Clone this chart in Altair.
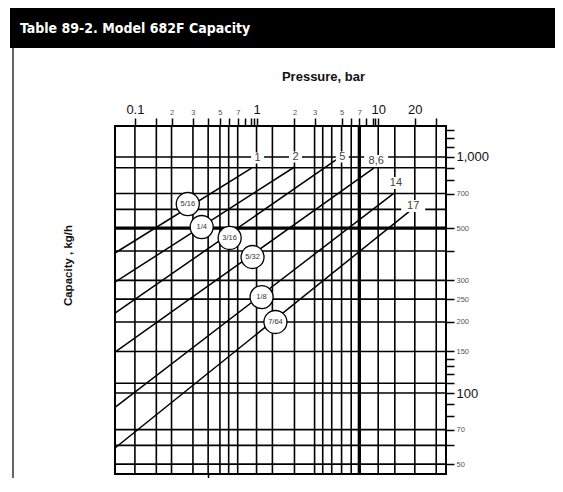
import json
import altair as alt
import pandas as pd

TITLE = "Table 89-2. Model 682F Capacity"
X_TITLE = "Pressure, bar"
Y_TITLE = "Capacity , kg/h"

pressure_domain = [0.0686, 36.1]
capacity_domain = [45.4, 1353]

# grid lines
v_grid = [0.1, 0.15, 0.2, 0.3, 0.4, 0.5, 0.59, 0.7, 1, 1.35, 2.05, 3, 3.5, 4.15, 5, 6, 10, 13.7, 20, 30]
v_grid_thick = [7]
h_grid = [1000, 900, 700, 600, 400, 300, 250, 200, 150, 110, 100, 70, 60, 50]
h_grid_thick = [500]

# top (pressure) ticks and their labels
top_ticks = [0.1, 0.15, 0.2, 0.3, 0.4, 0.5, 0.59, 0.7, 0.8, 0.9, 0.95, 1, 2.05, 3, 5, 6, 7, 8, 9, 9.5, 10, 20, 30]
top_labels = ["0.1", "", "2", "3", "", "5", "", "7", "", "", "", "1", "2", "3", "5", "", "7", "", "", "", "10", "20", ""]
top_big = [0.1, 1, 10, 20]
bottom_ticks = [0.4]

# right (capacity) ticks and their labels
right_ticks = [1300, 1200, 1100, 1000, 900, 800, 700, 500, 400, 300, 250, 200, 150, 140, 130, 120, 110, 100, 90, 80, 70, 60, 50]
right_labels = ["", "", "", "1,000", "", "", "700", "500", "", "300", "250", "200", "150", "", "", "", "", "100", "", "", "70", "", "50"]
right_big = [1000, 100]

# capacity lines per orifice
orifices = ["5/16", "1/4", "3/16", "5/32", "1/8", "7/64"]
line_p_start = [0.0686, 0.0686, 0.0686, 0.0686, 0.0686, 0.0686]
line_c_start = [392, 295, 218, 149, 87, 58.5]
line_p_end = [0.91, 2.05, 4.5, 9.2, 13.5, 18.6]
line_c_end = [898, 907, 972, 898, 703, 596]

# orifice circles
circle_p = [0.272, 0.354, 0.601, 0.927, 1.10, 1.43]
circle_c = [632, 505, 454, 377, 255, 200]

# labels at line ends
end_labels = ["1", "2", "5", "8,6", "14", "17"]
end_label_p = [1.02, 2.09, 5.07, 9.63, 14.0, 19.4]
end_label_c = [990, 1000, 1000, 962, 776, 620]

FONT = "Liberation Sans, Arial, Helvetica, sans-serif"
W, H = 331, 348

xs = alt.Scale(type="log", domain=pressure_domain, nice=False)
ys = alt.Scale(type="log", domain=capacity_domain, nice=False)


def lab_expr(labels, values):
    return f"{json.dumps(labels)}[indexof({json.dumps(values)}, datum.value)]"


top_axis = alt.Axis(
    orient="top", values=top_ticks, labelExpr=lab_expr(top_labels, top_ticks),
    tickSize=8, tickColor="black", tickWidth=1.5, domain=False, grid=False,
    labelPadding=2, labelOverlap=False, labelFlush=False, labelFont=FONT,
    labelFontSize={"condition": {"test": f"indexof({json.dumps(top_big)}, datum.value) >= 0", "value": 13}, "value": 7.5},
    labelColor={"condition": {"test": f"indexof({json.dumps(top_big)}, datum.value) >= 0", "value": "#111"}, "value": "#555"},
    title=X_TITLE, titleFont=FONT, titleFontSize=13, titleFontWeight="bold", titleColor="#111",
    titleX=208, titleY=-50, titleAlign="center", titleBaseline="middle", titleAngle=0,
)

right_axis = alt.Axis(
    orient="right", values=right_ticks, labelExpr=lab_expr(right_labels, right_ticks),
    tickSize=8, tickColor="black", tickWidth=1.5, domain=False, grid=False,
    labelPadding=2, labelOverlap=False, labelFlush=False, labelFont=FONT, labelBaseline="middle",
    labelFontSize={"condition": {"test": f"indexof({json.dumps(right_big)}, datum.value) >= 0", "value": 13}, "value": 7.5},
    labelColor={"condition": {"test": f"indexof({json.dumps(right_big)}, datum.value) >= 0", "value": "#111"}, "value": "#555"},
    title=None,
)

bottom_axis = alt.Axis(
    orient="bottom", values=bottom_ticks, labels=False, tickSize=4, tickColor="black",
    tickWidth=1.5, domain=False, grid=False, title=None,
)

left_axis = alt.Axis(
    orient="left", labels=False, ticks=False, domain=False, grid=False,
    title=Y_TITLE, titleFont=FONT, titleFontSize=11.5, titleFontWeight="bold", titleColor="#111",
    titleX=-47, titleY=139, titleAngle=270, titleAlign="center", titleBaseline="middle",
)

one = pd.DataFrame({"k": [0]})

bar = alt.Chart(one).mark_rect(color="black").encode(
    x=alt.value(-105), x2=alt.value(440), y=alt.value(-118), y2=alt.value(-78)
)
title_text = alt.Chart(one).mark_text(
    align="left", baseline="middle", color="white", fontSize=14, fontWeight="bold",
    font="Liberation Sans Narrow, DejaVu Sans Condensed, Liberation Sans, sans-serif",
).encode(x=alt.value(-95), y=alt.value(-97), text=alt.value(TITLE))
left_border = alt.Chart(one).mark_rule(color="#333", strokeWidth=1.5).encode(
    x=alt.value(-102), y=alt.value(-78), y2=alt.value(352)
)

vgrid = alt.Chart(pd.DataFrame({"p": v_grid})).mark_rule(color="black", strokeWidth=1.6).encode(
    x=alt.X("p:Q", scale=xs, axis=top_axis)
)
hgrid = alt.Chart(pd.DataFrame({"c": h_grid})).mark_rule(color="black", strokeWidth=1.6).encode(
    y=alt.Y("c:Q", scale=ys, axis=right_axis)
)
vthick = alt.Chart(pd.DataFrame({"p": v_grid_thick})).mark_rule(color="black", strokeWidth=3.3).encode(
    x=alt.X("p:Q", scale=xs, axis=bottom_axis)
)
hthick = alt.Chart(pd.DataFrame({"c": h_grid_thick})).mark_rule(color="black", strokeWidth=3.3).encode(
    y=alt.Y("c:Q", scale=ys, axis=left_axis)
)

rows = []
for o, p0, c0, p1, c1 in zip(orifices, line_p_start, line_c_start, line_p_end, line_c_end):
    rows.append({"orifice": o, "p": p0, "c": c0, "o": 0})
    rows.append({"orifice": o, "p": p1, "c": c1, "o": 1})
lines_df = pd.DataFrame(rows)

X = alt.X("p:Q", scale=xs, axis=None)
Y = alt.Y("c:Q", scale=ys, axis=None)

lines = alt.Chart(lines_df).mark_line(color="black", strokeWidth=1.5).encode(
    x=X, y=Y, detail="orifice:N", order="o:Q"
)

end_df = pd.DataFrame({"label": end_labels, "p": end_label_p, "c": end_label_c})
box_narrow = alt.Chart(end_df).transform_filter("length(datum.label) == 1").mark_point(
    shape="M-1,-0.85L1,-0.85L1,0.85L-1,0.85Z", filled=True, color="white", opacity=1, size=169
).encode(x=X, y=Y)
box_wide = alt.Chart(end_df).transform_filter("length(datum.label) > 1").mark_point(
    shape="M-1,-0.5L1,-0.5L1,0.5L-1,0.5Z", filled=True, color="white", opacity=1, size=576
).encode(x=X, y=Y)
end_text = alt.Chart(end_df).mark_text(
    fontSize=11, color="#444", font=FONT, baseline="middle", align="center"
).encode(x=X, y=Y, text="label:N")

circ_df = pd.DataFrame({"orifice": orifices, "p": circle_p, "c": circle_c})
circles = alt.Chart(circ_df).mark_point(
    shape="circle", filled=True, fill="white", stroke="black", strokeWidth=1.3, opacity=1, size=530
).encode(x=X, y=Y)
circ_text = alt.Chart(circ_df).mark_text(
    fontSize=7.5, color="#333", font=FONT, baseline="middle", align="center"
).encode(x=X, y=Y, text="orifice:N")

chart = alt.layer(
    bar, title_text, left_border, vgrid, hgrid, vthick, hthick, lines,
    box_narrow, box_wide, end_text, circles, circ_text,
).resolve_axis(x="independent", y="independent").properties(
    width=W, height=H,
    autosize=alt.AutoSizeParams(type="none"),
    padding={"left": 107, "top": 118, "right": 109, "bottom": 4},
    background="white",
).configure_view(stroke="black", strokeWidth=2)

chart.save("out.html", embed_options={"renderer": "svg", "actions": False})
